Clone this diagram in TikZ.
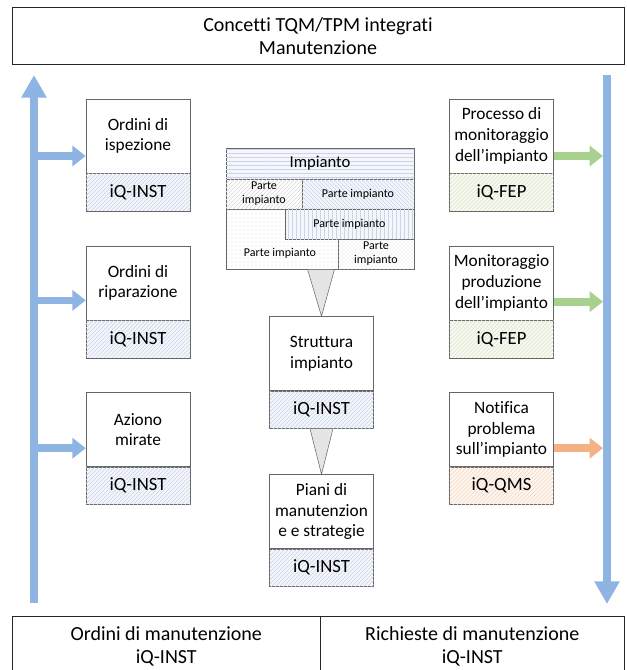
\documentclass[tikz,border=0pt]{standalone}
\usepackage{fontspec}
\setmainfont{Carlito}[Ligatures=NoCommon]
\usetikzlibrary{
  arrows.meta,
  positioning,
  calc,
  patterns
}
\definecolor{barblue}{RGB}{142,180,227}
\definecolor{fepgreen}{RGB}{169,209,142}
\definecolor{qmsorange}{RGB}{244,177,131}
\definecolor{instline}{RGB}{202,213,232}
\definecolor{instfill}{RGB}{244,246,251}
\definecolor{fepline}{RGB}{216,228,198}
\definecolor{fepfill}{RGB}{248,250,243}
\definecolor{qmsline}{RGB}{244,212,190}
\definecolor{qmsfill}{RGB}{253,247,242}

\begin{document}
\begin{tikzpicture}[x=0.75pt,y=-0.75pt,
      titlebox/.style={
         rectangle,
         draw=black!85,
         fill=white,
         align=center,
         inner sep=0pt,
         font=\fontsize{15}{17}\selectfont
      },
      textbox/.style={
         rectangle,
         draw=black!60,
         fill=white,
         minimum width=78pt,
         minimum height=55.5pt,
         inner sep=1pt,
         align=center,
         font=\fontsize{13}{15.5}\selectfont
      },
      tagbox/.style={
         rectangle,
         draw=black!60,
         minimum width=78pt,
         minimum height=28pt,
         inner sep=1pt,
         font=\fontsize{14}{16}\selectfont
      },
      inst/.style={tagbox,fill=instfill,
         postaction={pattern=north east lines,pattern color=instline}},
      fep/.style={tagbox,fill=fepfill,
         postaction={pattern=north east lines,pattern color=fepline}},
      qms/.style={tagbox,fill=qmsfill,
         postaction={pattern=north east lines,pattern color=qmsline}},
      part/.style={
         rectangle,
         draw=black!60,
         inner sep=0pt,
         align=center,
         font=\fontsize{9}{10.5}\selectfont
      },
      bar/.style={line width=5.75pt,draw=barblue,-{Triangle[width=18pt,length=17pt]}},
      feed/.style={line width=5.75pt,-{Triangle[width=15pt,length=10pt]}},
      funnel/.style={draw=black!60,fill=black!10},
      node distance=0pt
    ]
  \useasboundingbox (0,0) rectangle (626,670);

  % titles
  \node (top) [titlebox, minimum width=459pt, minimum height=43pt] at (318,36)
     {Concetti TQM/TPM integrati\\Manutenzione};
  \node (bl) [titlebox, minimum width=231pt, minimum height=45pt, anchor=north west] at (12,616)
     {Ordini di manutenzione\\iQ-INST};
  \node (br) [titlebox, minimum width=228pt, minimum height=45pt, anchor=north west] at (320,616)
     {Richieste di manutenzione\\iQ-INST};

  % main bars
  \coordinate (lb0) at (34,603);
  \coordinate (lb1) at (34,75);
  \coordinate (rb0) at (607,75);
  \coordinate (rb1) at (607,604);
  \coordinate (rbl) at (603,75);
  \draw[bar] (lb0) -- (lb1);
  \draw[bar] (rb0) -- (rb1);

  % left column
  \node (l1) [textbox] at (138,136) {Ordini di\\ispezione};
  \node (l1t) [inst, below=of l1] {iQ-INST};
  \node (l2) [textbox] at (138,283) {Ordini di\\riparazione};
  \node (l2t) [inst, below=of l2] {iQ-INST};
  \node (l3) [textbox] at (138,429.5) {Aziono\\mirate};
  \node (l3t) [inst, below=of l3] {iQ-INST};

  % right column
  \node (r1) [textbox] at (501.5,136) {Processo di\\monitoraggio\\dell’impianto};
  \node (r1t) [fep, below=of r1] {iQ-FEP};
  \node (r2) [textbox] at (501.5,283) {Monitoraggio\\produzione\\dell’impianto};
  \node (r2t) [fep, below=of r2] {iQ-FEP};
  \node (r3) [textbox] at (501.5,429.5) {Notifica\\problema\\sull’impianto};
  \node (r3t) [qms, below=of r3] {iQ-QMS};

  % plant block
  \node (p0) [part, minimum width=141pt, minimum height=23.25pt, fill=instfill,
     postaction={pattern=horizontal lines,pattern color=instline},
     font=\fontsize{12.5}{14}\selectfont] at (320,163.5) {Impianto};
  \node (p1) [part, minimum width=57pt, minimum height=22.5pt, fill=white,
     postaction={pattern=north east lines,pattern color=black!15}] at (264,194) {Parte\\impianto};
  \node (p2) [part, minimum width=84pt, minimum height=22.5pt, fill=instfill,
     postaction={pattern=north west lines,pattern color=instline}] at (358,194) {Parte impianto};
  \path[draw=black!60, fill=white, postaction={pattern=dots,pattern color=black!15}]
     (226,209) -- (285,209) -- (285,239) -- (338,239) -- (338,269) -- (226,269) -- cycle;
  \node (p3) [part, minimum width=96.75pt, minimum height=22.5pt, fill=instfill,
     postaction={pattern=vertical lines,pattern color=instline}] at (349.5,224) {Parte impianto};
  \node (p5) [part, minimum width=57pt, minimum height=22.5pt, fill=white,
     postaction={pattern=crosshatch dots,pattern color=black!15}] at (376,254) {Parte\\impianto};
  \node (p4) [part, draw=none] at (280,253) {Parte impianto};

  % middle column
  \node (c1) [textbox] at (321.5,353.5) {Struttura\\impianto};
  \node (c1t) [inst, below=of c1] {iQ-INST};
  \node (c2) [textbox] at (321.5,511.5) {Piani di\\manutenzion\\e e strategie};
  \node (c2t) [inst, below=of c2] {iQ-INST};

  \filldraw[funnel] (c1.north) -- ($(c1.north |- p5.south)+(-14,0)$)
     -- ($(c1.north |- p5.south)+(13,0)$) -- cycle;
  \filldraw[funnel] (c2.north) -- ($(c1t.south)+(-11.5,0)$)
     -- ($(c1t.south)+(11.5,0)$) -- cycle;

  % side arrows
  \draw[feed, draw=barblue] ([yshift=-15pt]l1.west -| lb0) -- ([yshift=-15pt]l1.west);
  \draw[feed, draw=barblue] ([yshift=-13pt]l2.west -| lb0) -- ([yshift=-13pt]l2.west);
  \draw[feed, draw=barblue] ([yshift=-14pt]l3.west -| lb0) -- ([yshift=-14pt]l3.west);
  \draw[feed, draw=fepgreen] ([yshift=-15pt]r1.east) -- ([yshift=-15pt]r1.east -| rbl);
  \draw[feed, draw=fepgreen] ([yshift=-14pt]r2.east) -- ([yshift=-14pt]r2.east -| rbl);
  \draw[feed, draw=qmsorange] ([yshift=-14pt]r3.east) -- ([yshift=-14pt]r3.east -| rbl);
\end{tikzpicture}
\end{document}
